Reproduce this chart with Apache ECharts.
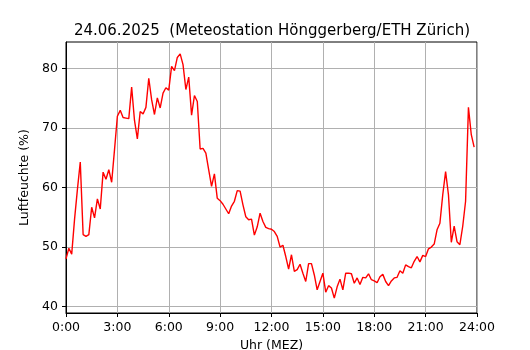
<!DOCTYPE html>
<html><head><meta charset="utf-8">
<script src="https://cdn.jsdelivr.net/npm/echarts@6/dist/echarts.min.js"></script>
<style>html,body{margin:0;padding:0;background:#fff}#c{width:530px;height:350px}</style>
</head><body><div id="c"></div>
<script>
const chartTitle = '24.06.2025  (Meteostation Hönggerberg/ETH Zürich)';
const xAxisName = 'Uhr (MEZ)';
const yAxisName = 'Luftfeuchte (%)';
const stepMinutes = 10;
const humidity = [
  48.0, 49.8, 48.8, 54.7, 59.7, 64.3,
  52.1, 51.8, 52.1, 56.7, 54.9, 58.1,
  56.4, 62.6, 61.4, 63.0, 60.9, 66.4,
  72.0, 73.0, 71.8, 71.7, 71.6, 76.9,
  71.3, 68.2, 72.8, 72.4, 73.5, 78.4,
  74.8, 72.3, 75.1, 73.4, 75.9, 76.8,
  76.4, 80.4, 79.7, 81.9, 82.5, 80.7,
  76.5, 78.6, 72.2, 75.5, 74.5, 66.5,
  66.6, 65.8, 63.0, 60.2, 62.3, 58.2,
  57.8, 57.2, 56.4, 55.6, 56.9, 57.7,
  59.5, 59.4, 57.1, 55.1, 54.6, 54.7,
  52.0, 53.4, 55.7, 54.3, 53.3, 53.1,
  53.0, 52.6, 51.8, 50.0, 50.3, 48.4,
  46.3, 48.7, 45.9, 46.2, 47.1, 45.6,
  44.2, 47.2, 47.2, 45.3, 42.8, 44.2,
  45.6, 42.4, 43.5, 43.1, 41.4, 43.3,
  44.6, 42.8, 45.6, 45.6, 45.5, 43.9,
  44.8, 43.7, 44.9, 44.8, 45.5, 44.5,
  44.3, 44.0, 45.0, 45.4, 44.2, 43.5,
  44.3, 44.8, 44.9, 46.0, 45.6, 47.0,
  46.7, 46.5, 47.6, 48.4, 47.5, 48.6,
  48.4, 49.7, 50.0, 50.5, 52.9, 54.0,
  58.8, 62.7, 58.8, 50.8, 53.5, 50.9,
  50.4, 53.5, 57.7, 73.5, 68.9, 66.8
];
const xTickHours = [0, 3, 6, 9, 12, 15, 18, 21, 24];
const yTicks = [40, 50, 60, 70, 80];

const seriesData = humidity.map((v, i) => [i * stepMinutes / 60, v]);
const font = 'DejaVu Sans';

const chart = echarts.init(document.getElementById('c'), null, {renderer: 'canvas'});
chart.setOption({
  animation: false,
  backgroundColor: '#fff',
  title: {
    text: chartTitle,
    left: 267, top: 19, textAlign: 'center',
    textStyle: {fontFamily: font, fontSize: 15, fontWeight: 'normal', color: '#000'}
  },
  grid: {
    left: 66, right: 53, top: 42, bottom: 37,
    outerBoundsMode: 'none', containLabel: false,
    show: true, borderColor: '#000', borderWidth: 1, backgroundColor: 'transparent'
  },
  xAxis: {
    type: 'value', min: 0, max: 24, interval: 3,
    name: xAxisName, nameLocation: 'middle', nameGap: 26,
    nameTextStyle: {fontFamily: font, fontSize: 12.5, color: '#000'},
    axisLine: {lineStyle: {color: '#000', width: 1}},
    axisTick: {show: true, length: 4, lineStyle: {color: '#000'}, customValues: xTickHours},
    axisLabel: {fontFamily: font, fontSize: 12.5, color: '#000', margin: 8,
      customValues: xTickHours, formatter: v => v + ':00'},
    splitLine: {show: true, lineStyle: {color: '#b0b0b0', width: 1}}
  },
  yAxis: {
    type: 'value', min: 38.9, max: 84.5,
    name: yAxisName, nameLocation: 'middle', nameGap: 28, nameRotate: 90,
    nameTextStyle: {fontFamily: font, fontSize: 12.5, color: '#000'},
    axisLine: {show: true, lineStyle: {color: '#000', width: 1}},
    axisTick: {show: true, length: 4, lineStyle: {color: '#000'}, customValues: yTicks},
    axisLabel: {fontFamily: font, fontSize: 12.5, color: '#000', margin: 8,
      customValues: yTicks, formatter: v => String(v)},
    splitLine: {show: true, lineStyle: {color: '#b0b0b0', width: 1}}
  },
  series: [{
    type: 'line', data: seriesData, showSymbol: false, symbol: 'none',
    lineStyle: {color: '#ff0000', width: 1.4}, itemStyle: {color: '#ff0000'}
  }]
});
</script></body></html>
